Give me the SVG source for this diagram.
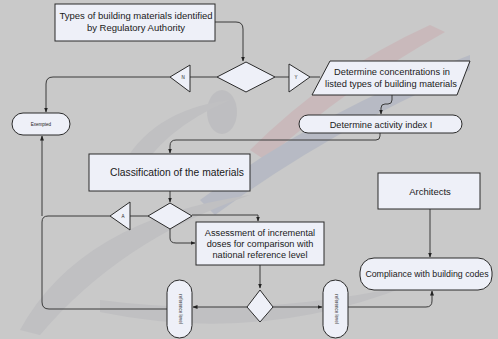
<svg xmlns="http://www.w3.org/2000/svg" width="498" height="339" viewBox="0 0 498 339">
<defs>
<marker id="ah" viewBox="0 0 10 10" refX="9" refY="5" markerWidth="5" markerHeight="5" orient="auto-start-reverse">
<path d="M0,1 L10,5 L0,9 z" fill="#222"/>
</marker>
<style>
.box{fill:#eef0f8;stroke:#2a2a2a;stroke-width:1}
.t{font-family:"Liberation Sans",Arial,sans-serif;fill:#1a1a1a;text-anchor:middle}
.c{fill:none;stroke:#3a3a3a;stroke-width:1}
.ca{fill:none;stroke:#3a3a3a;stroke-width:1;marker-end:url(#ah)}
</style>
</defs>
<rect x="0" y="0" width="498" height="339" fill="#c9c9c9"/>
<g id="watermark" opacity="0.4">
<path d="M250,150 Q330,70 430,25 L445,32 Q350,85 265,160 z" fill="#c9a3a8"/>
<path d="M200,200 Q320,110 470,55 L470,70 Q330,130 215,215 z" fill="#9ea6bd"/>
<path d="M20,330 Q80,220 250,195 Q120,240 40,335 z" fill="#b3b3b9"/>
<path d="M100,300 Q250,320 410,285 Q260,345 100,312 z" fill="#b3b3b9"/>
<ellipse cx="222" cy="112" rx="15" ry="22" fill="#b0b0b6"/>
<path d="M120,170 Q150,110 230,100 Q160,130 135,180 z" fill="#b3b3b9"/>
</g>
<g id="connectors">
<path class="ca" d="M215,22 L236,22 Q243,22 243,29 L243,61"/>
<path class="c" d="M217,77 L190,77"/>
<path class="ca" d="M170,77 L53,77 Q46,77 46,84 L46,112"/>
<path class="c" d="M275,77 L289,77"/>
<path class="c" d="M310,77 L320,77"/>
<path class="ca" d="M392,95 L392,100 Q392,104 388,104 L385,104 Q381,104 381,108 L381,114"/>
<path class="ca" d="M380,133 L380,136 Q380,140 376,140 L176,140 Q170,140 170,146 L170,153"/>
<path class="ca" d="M170,191 L170,202"/>
<path class="c" d="M148,216 L130,216"/>
<path class="c" d="M110,216 L48,216 Q42,216 42,222 L42,302 Q42,309 49,309 L167,309"/>
<path class="ca" d="M42,216 L42,136"/>
<path class="ca" d="M192,215 L258,215 L258,221"/>
<path class="ca" d="M170,229 L170,238 Q170,243 176,243 L195,243"/>
<path class="ca" d="M260,265 L260,288"/>
<path class="ca" d="M247,307 L193,307"/>
<path class="ca" d="M273,307 L322,307"/>
<path class="ca" d="M348,307 L426,307 Q432,307 432,301 L432,291"/>
<path class="ca" d="M430,209 L430,257"/>
</g>
<g id="n1">
<rect class="box" x="55" y="4" width="160" height="37"/>
<text class="t" x="136" y="19" font-size="9.5">Types of building materials identified</text>
<text class="t" x="136" y="31" font-size="9.5">by Regulatory Authority</text>
</g>
<g id="d1"><polygon class="box" points="246,62 275,77 246,92 217,77"/></g>
<g id="tN"><polygon class="box" points="170,77 190,65 190,92"/><text class="t" x="183" y="79" font-size="4.5">N</text></g>
<g id="tY"><polygon class="box" points="310,77 289,64 289,92"/><text class="t" x="296" y="79" font-size="4.5">Y</text></g>
<g id="exempted">
<rect class="box" x="12" y="113" width="58" height="22" rx="11"/>
<text class="t" x="41" y="126" font-size="4.5">Exempted</text>
</g>
<g id="conc">
<polygon class="box" points="330,61 470,61 457,95 312,95"/>
<text class="t" x="392" y="75" font-size="9.3">Determine concentrations in</text>
<text class="t" x="391" y="87" font-size="9.3">listed types of building materials</text>
</g>
<g id="activity">
<rect class="box" x="299" y="115" width="163" height="18" rx="9"/>
<text class="t" x="381" y="127.5" font-size="9.2">Determine activity index I</text>
</g>
<g id="classif">
<rect class="box" x="89" y="154" width="161" height="37"/>
<text class="t" x="177" y="176" font-size="10.3">Classification of the materials</text>
</g>
<g id="d2"><polygon class="box" points="170,203 192,216 170,229 148,216"/></g>
<g id="tA"><polygon class="box" points="110,216 130,202 130,230"/><text class="t" x="123" y="218" font-size="4.5">A</text></g>
<g id="assess">
<rect class="box" x="196" y="222" width="128" height="43"/>
<text class="t" x="260" y="236" font-size="9.2">Assessment of incremental</text>
<text class="t" x="260" y="247" font-size="9.2">doses for comparison with</text>
<text class="t" x="260" y="258" font-size="9.2">national reference level</text>
</g>
<g id="d3"><polygon class="box" points="260,290 273,307 260,322 247,307"/></g>
<g id="ref1">
<rect class="box" x="167" y="280" width="25" height="58" rx="12.5"/>
<text class="t" font-size="4.5" transform="translate(178.5,309) rotate(90)">reference level</text>
</g>
<g id="ref2">
<rect class="box" x="323" y="280" width="25" height="58" rx="12.5"/>
<text class="t" font-size="4.5" transform="translate(334.5,309) rotate(90)">reference level</text>
</g>
<g id="arch">
<rect class="box" x="378" y="173" width="102" height="36"/>
<text class="t" x="430" y="195" font-size="9.5">Architects</text>
</g>
<g id="compliance">
<rect class="box" x="360" y="258" width="132" height="32" rx="14"/>
<text class="t" x="427" y="277" font-size="8.8">Compliance with building codes</text>
</g>
</svg>
